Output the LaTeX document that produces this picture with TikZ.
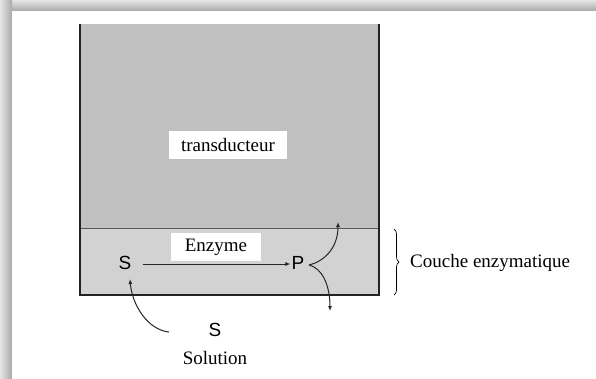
\documentclass[tikz,border=0pt]{standalone}
\usepackage{fontspec}
\setmainfont{Liberation Serif}
\newfontfamily\arialfont{Liberation Sans}
\usetikzlibrary{arrows.meta,decorations.pathreplacing}
\definecolor{transgray}{HTML}{C0C0C0}
\definecolor{layergray}{HTML}{D2D2D2}
\definecolor{wallgray}{HTML}{232323}
\tikzset{
  lbl/.style={font=\fontsize{19}{22}\selectfont, inner sep=0pt},
  lblbox/.style={lbl, fill=white, inner xsep=12pt, inner ysep=7pt},
  species/.style={font=\arialfont\fontsize{19}{22}\selectfont, inner sep=1pt},
  flow/.style={line width=1pt, draw=black!85, -{Latex[length=5pt,width=4pt]}},
}
\begin{document}
\begin{tikzpicture}[x=1pt,y=-1pt]
\useasboundingbox (0,0) rectangle (596,378);
% soft frame with shadow on the top and left
\fill[gray!30] (0,0) rectangle (596,378);
\shade[top color=gray!20, bottom color=gray!68] (0,0) rectangle (596,11);
\shade[left color=gray!20, right color=gray!68] (0,0) rectangle (12,378);
\fill[white] (12,11) rectangle (596,378);

% transducer body and enzyme layer
\fill[transgray] (80,24) rectangle (379,228);
\fill[layergray] (80,228) rectangle (379,295);
\draw[gray!70!black, line width=0.8pt] (80,228) -- (379,228);
\draw[wallgray, line width=2.6pt] (80,24) -- (80,295) -- (379,295) -- (379,24);

% labels
\node[lblbox] (trans) at (228,145) {transducteur};
\node[lblbox, inner xsep=14pt, inner ysep=6pt] (enz) at (216,247) {Enzyme};

% species
\node[species] (S) at (125,263) {S};
\node[species] (P) at (298,263) {P};
\node[species] (S2) at (215,330) {S};
\node[lbl] (sol) at (215,358) {Solution};

% reaction and diffusion paths
\draw[flow] (S.east) ++(10,1) coordinate (sa) -- (P.west |- sa) coordinate (pa);
\coordinate (pout) at (309,265);
\coordinate (up) at (338,222);
\coordinate (down) at (330,311);
\coordinate (sin) at (169,332);
\coordinate (sup) at (130,279);
\draw[flow] (pout) .. controls (322,262) and (338,250) .. (up);
\draw[flow] (pout) .. controls (322,268) and (330,285) .. (down);
\draw[flow] (sin) .. controls (148,330) and (132,305) .. (sup);

% enzyme layer brace
\draw[line width=0.7pt, decorate, decoration={brace, amplitude=5pt}] (394,229) -- (394,295) coordinate[midway] (bmid);
\node[lbl, anchor=west] (couche) at (410,263) {Couche enzymatique};
\end{tikzpicture}
\end{document}
